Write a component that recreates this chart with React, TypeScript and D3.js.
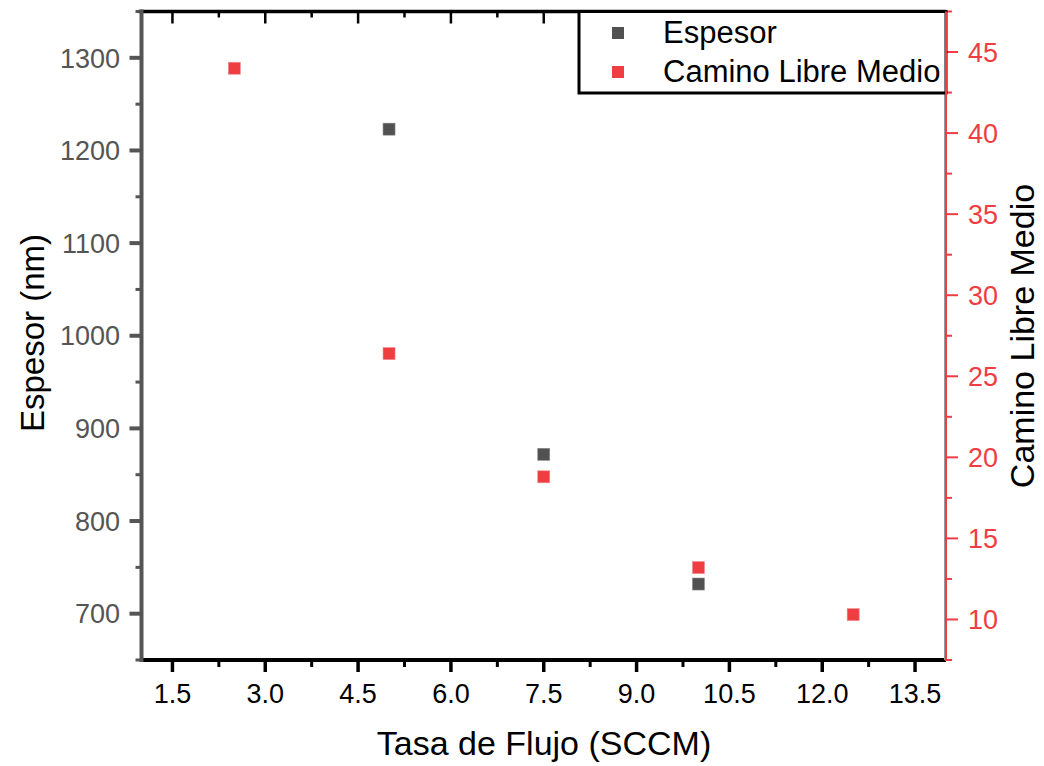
import React from "react";
import * as d3 from "d3";

const espesorX = [5, 7.5, 10];
const espesorY = [1223, 872, 732];
const caminoX = [2.5, 5, 7.5, 10, 12.5];
const caminoY = [44, 26.4, 18.8, 13.2, 10.3];
const xTicks = [1.5, 3.0, 4.5, 6.0, 7.5, 9.0, 10.5, 12.0, 13.5];
const xMinor = [2.25, 3.75, 5.25, 6.75, 8.25, 9.75, 11.25, 12.75];
const yLeftTicks = [700, 800, 900, 1000, 1100, 1200, 1300];
const yLeftMinor = [650, 750, 850, 950, 1050, 1150, 1250, 1350];
const yRightTicks = [10, 15, 20, 25, 30, 35, 40, 45];
const yRightMinor = [7.5, 12.5, 17.5, 22.5, 27.5, 32.5, 37.5, 42.5, 47.5];
const seriesNames = ["Espesor", "Camino Libre Medio"];

const L = 141.5, R = 946, T = 11.5, B = 660;
const GREY = "#515151";
const RED = "#ef3e42";
const AXGREY = "#555555";
const FONT = "'Liberation Sans', Arial, sans-serif";

export default function App() {
  const x = d3.scaleLinear().domain([1, 14]).range([L, R]);
  const yL = d3.scaleLinear().domain([650, 1350]).range([B, T]);
  const yR = d3.scaleLinear().domain([7.5, 47.5]).range([B, T]);
  const S = 12;

  return (
    <svg width={1044} height={766} style={{ position: "absolute", left: 0, top: 0, background: "#fff" }} fontFamily={FONT}>
      {/* markers */}
      {espesorX.map((v, i) => (
        <rect key={"e" + i} x={x(v) - S / 2} y={yL(espesorY[i]) - S / 2} width={S} height={S} fill={GREY} stroke="#8a8a8a" strokeWidth={0.6} />
      ))}
      {caminoX.map((v, i) => (
        <rect key={"c" + i} x={x(v) - S / 2} y={yR(caminoY[i]) - S / 2} width={S} height={S} fill={RED} stroke="#f08a8c" strokeWidth={0.6} />
      ))}

      {/* bottom axis */}
      {xTicks.map((t) => (
        <g key={"xt" + t}>
          <line x1={x(t)} x2={x(t)} y1={B} y2={B + 12} stroke="#000" strokeWidth={3.5} />
          <line x1={x(t)} x2={x(t)} y1={T} y2={T + 12} stroke="#000" strokeWidth={2.5} />
          <text x={x(t)} y={703} textAnchor="middle" fontSize={27} fill="#000">{t.toFixed(1)}</text>
        </g>
      ))}
      {xMinor.map((t) => (
        <g key={"xm" + t}>
          <line x1={x(t)} x2={x(t)} y1={B} y2={B + 7} stroke="#000" strokeWidth={3} />
          <line x1={x(t)} x2={x(t)} y1={T} y2={T + 6} stroke="#000" strokeWidth={2.5} />
        </g>
      ))}
      <line x1={L} x2={R} y1={B} y2={B} stroke="#000" strokeWidth={4} />
      <line x1={L - 3} x2={R} y1={T} y2={T} stroke="#000" strokeWidth={3.5} />

      {/* left axis */}
      {yLeftTicks.map((t) => (
        <g key={"yl" + t}>
          <line x1={L - 12} x2={L} y1={yL(t)} y2={yL(t)} stroke={AXGREY} strokeWidth={4} />
          <text x={120} y={yL(t)} dy="0.36em" textAnchor="end" fontSize={27} fill={AXGREY}>{t}</text>
        </g>
      ))}
      {yLeftMinor.map((t) => (
        <line key={"ylm" + t} x1={L - 6} x2={L} y1={yL(t)} y2={yL(t)} stroke={AXGREY} strokeWidth={3} />
      ))}
      <line x1={L} x2={L} y1={T - 2} y2={B + 2} stroke={AXGREY} strokeWidth={4} />

      {/* right axis */}
      {yRightTicks.map((t) => (
        <g key={"yr" + t}>
          <line x1={R} x2={R + 12} y1={yR(t)} y2={yR(t)} stroke={RED} strokeWidth={2} />
          <text x={968} y={yR(t)} dy="0.36em" textAnchor="start" fontSize={27} fill={RED}>{t}</text>
        </g>
      ))}
      {yRightMinor.map((t) => (
        <line key={"yrm" + t} x1={R} x2={R + 6} y1={yR(t)} y2={yR(t)} stroke={RED} strokeWidth={2} />
      ))}
      <line x1={R - 1.5} x2={R - 1.5} y1={T} y2={B} stroke="#999" strokeWidth={1} />
      <line x1={R} x2={R} y1={T - 1} y2={B + 1} stroke={RED} strokeWidth={2} />

      {/* legend */}
      <rect x={579} y={T} width={R - 579} height={93 - T} fill="#fff" stroke="#000" strokeWidth={3} />
      <line x1={R} x2={R} y1={T} y2={95} stroke={RED} strokeWidth={2} />
      <rect x={618 - S / 2} y={33 - S / 2} width={S} height={S} fill={GREY} />
      <rect x={618 - S / 2} y={72 - S / 2} width={S} height={S} fill={RED} />
      <text x={663} y={43} fontSize={31} fill="#000">{seriesNames[0]}</text>
      <text x={663} y={81.5} fontSize={31} fill="#000">{seriesNames[1]}</text>

      {/* titles */}
      <text x={544} y={755} textAnchor="middle" fontSize={34} fill="#000">Tasa de Flujo (SCCM)</text>
      <text transform="translate(44,333) rotate(-90)" textAnchor="middle" fontSize={33} fill="#000">Espesor (nm)</text>
      <text transform="translate(1034,336) rotate(-90)" textAnchor="middle" fontSize={34} fill="#000">Camino Libre Medio</text>
    </svg>
  );
}
